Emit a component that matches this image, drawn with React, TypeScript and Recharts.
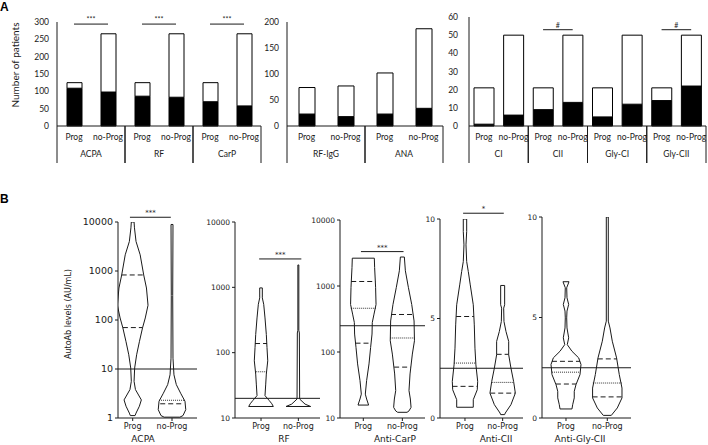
import React from 'react';
import { BarChart, Bar, XAxis, YAxis, ReferenceLine, ScatterChart, Scatter } from 'recharts';

const FONT_A = "Lato, 'Open Sans', sans-serif";
const FONT_B = "'DejaVu Sans', sans-serif";
const INK = '#1a1a1a';

// ---------- panel A : number of patients ----------
const arms = ['Prog', 'no-Prog'];

const groupsA1 = ['ACPA', 'RF', 'CarP'];
const totalA1 = [125, 266, 125, 266, 125, 266];
const posA1 = [109, 98, 86, 83, 70, 58];

const groupsA2 = ['RF-IgG', 'ANA'];
const totalA2 = [74, 77, 102, 187];
const posA2 = [23, 18, 23, 34];

const groupsA3 = ['CI', 'CII', 'Gly-CI', 'Gly-CII'];
const totalA3 = [21, 50, 21, 50, 21, 50, 21, 50];
const posA3 = [1, 6, 9, 13, 5, 12, 14, 22];

const sigA1 = [['ACPA', '***'], ['RF', '***'], ['CarP', '***']];
const sigA3 = [['CII', '#'], ['Gly-CII', '#']];

// ---------- panel B : violin outlines (level, half width in category units) ----------
const vCats = ['Prog', 'no-Prog'];

const acpaProgLv = [1.12, 1.26, 1.74, 2.34, 3.8, 5.6, 10.5, 19.5, 36, 69, 110, 200, 450, 830, 2140, 4000, 7600, 10000];
const acpaProgW = [0.06, 0.085, 0.17, 0.22, 0.07, 0.035, 0.05, 0.1, 0.17, 0.25, 0.32, 0.39, 0.35, 0.28, 0.19, 0.085, 0.045, 0.035];
const acpaProgQ = [[70, 0.25, 'dash'], [200, 0.39, 'dot'], [830, 0.28, 'dash']];
const acpaNoLv = [1.04, 1.12, 1.48, 2.2, 3.2, 4.8, 7.6, 16.6, 316, 8900];
const acpaNoW = [0.2, 0.28, 0.35, 0.33, 0.22, 0.11, 0.05, 0.025, 0.018, 0.025];
const acpaNoQ = [[1.95, 0.3, 'dash'], [2.3, 0.33, 'dot']];

const rfProgLv = [15, 16.5, 18.5, 22, 33, 47, 75, 120, 190, 340, 550, 690, 980];
const rfProgW = [0.33, 0.29, 0.22, 0.107, 0.126, 0.142, 0.18, 0.16, 0.142, 0.107, 0.072, 0.035, 0.035];
const rfProgQ = [[51, 0.14, 'dot'], [138, 0.16, 'dash']];
const rfNoLv = [15, 16.3, 19.5, 200, 220, 2200];
const rfNoW = [0.33, 0.18, 0.035, 0.027, 0.013, 0.013];
const rfNoQ = [];

const carpProgLv = [15.7, 19.4, 23, 37, 66, 117, 187, 280, 375, 525, 955, 1900, 2640];
const carpProgW = [0.136, 0.085, 0.051, 0.085, 0.146, 0.187, 0.223, 0.23, 0.274, 0.326, 0.315, 0.29, 0.282];
const carpProgQ = [[136, 0.2, 'dash'], [460, 0.32, 'dot'], [1170, 0.31, 'dash']];
const carpNoLv = [12.2, 12.8, 14.5, 19.4, 26, 46.5, 93, 148, 295, 525, 955, 1700, 2750];
const carpNoW = [0.12, 0.17, 0.223, 0.205, 0.17, 0.197, 0.256, 0.31, 0.3, 0.24, 0.154, 0.077, 0.051];
const carpNoQ = [[59, 0.21, 'dash'], [163, 0.31, 'dot'], [370, 0.29, 'dash']];

const ciiProgLv = [0.54, 0.92, 1.42, 1.84, 2.67, 3.51, 4.68, 5.69, 6.69, 7.36, 7.86, 8.7, 9.37, 10];
const ciiProgW = [0.22, 0.22, 0.326, 0.337, 0.29, 0.265, 0.247, 0.22, 0.14, 0.088, 0.045, 0.027, 0.045, 0.045];
const ciiProgQ = [[1.59, 0.33, 'dash'], [2.76, 0.29, 'dot'], [5.1, 0.235, 'dash']];
const ciiNoLv = [0.17, 0.25, 0.67, 1.25, 1.84, 2.51, 3.18, 3.85, 4.35, 4.85, 5.52, 5.69, 6.66];
const ciiNoW = [0.053, 0.07, 0.22, 0.337, 0.29, 0.22, 0.16, 0.16, 0.088, 0.035, 0.027, 0.053, 0.053];
const ciiNoQ = [[1.25, 0.33, 'dash'], [1.79, 0.29, 'dot'], [3.2, 0.16, 'dash']];

const glyProgLv = [0.45, 0.66, 1.0, 1.33, 1.66, 2.16, 2.66, 2.99, 3.32, 3.65, 3.99, 4.48, 4.98, 5.32, 5.65, 5.98, 6.48, 6.78];
const glyProgW = [0.145, 0.162, 0.2, 0.2, 0.242, 0.339, 0.363, 0.307, 0.145, 0.031, 0.065, 0.024, 0.017, 0.024, 0.065, 0.024, 0.017, 0.073];
const glyProgQ = [[1.69, 0.245, 'dash'], [2.28, 0.34, 'dot'], [2.82, 0.34, 'dash']];
const glyNoLv = [0.13, 0.5, 1.0, 1.49, 2.16, 2.99, 3.82, 4.48, 4.82, 10];
const glyNoW = [0.097, 0.242, 0.356, 0.356, 0.29, 0.225, 0.121, 0.065, 0.024, 0.024];
const glyNoQ = [[1.05, 0.356, 'dash'], [1.74, 0.35, 'dot'], [2.94, 0.23, 'dash']];

const logTicks4 = [1, 10, 100, 1000, 10000];
const logTicks3 = [10, 100, 1000, 10000];
const linTicks = [0, 5, 10];

// ---------- helpers ----------
function buildRows(groups: string[], total: number[], pos: number[]) {
  const rows: any[] = [];
  groups.forEach((g, gi) =>
    arms.forEach((a, ai) => {
      const i = gi * 2 + ai;
      rows.push({ key: g + '|' + a, group: g, pos: pos[i], rest: total[i] - pos[i] });
    })
  );
  return rows;
}

function outline(center: number, levels: number[], widths: number[]) {
  const right = levels.map((y, i) => ({ x: center + widths[i], y }));
  const left = levels.map((y, i) => ({ x: center - widths[i], y })).reverse();
  return [...right, ...left, right[0]];
}

const noDot = () => <g />;

// eslint-disable-next-line @typescript-eslint/no-explicit-any
function GroupTick({ x, y, payload, half }: any) {
  return (
    <g>
      <line x1={x - half} x2={x - half} y1={y - 18} y2={y + 19} stroke={INK} />
      <line x1={x + half} x2={x + half} y1={y - 18} y2={y + 19} stroke={INK} />
      <text x={x} y={y + 13} textAnchor="middle" fontFamily={FONT_A} fontSize={8.5} fill={INK}>
        {payload.value}
      </text>
    </g>
  );
}

function CountChart({ left, width, plotTop, yW, rightPad, groups, total, pos, yMax, yStep, barSize, tickMargin, sig, sigY }: any) {
  const rows = buildRows(groups, total, pos);
  const ticks: number[] = [];
  for (let v = 0; v <= yMax; v += yStep) ticks.push(v);
  const half = (width - yW - rightPad) / groups.length / 2;

  return (
    <div style={{ position: 'absolute', left, top: 0 }}>
      <BarChart width={width} height={170} data={rows} margin={{ top: plotTop, right: rightPad, bottom: 0, left: 0 }}>
        <XAxis
          dataKey="key"
          interval={0}
          height={18}
          tickFormatter={(k: string) => k.split('|')[1]}
          axisLine={{ stroke: INK }}
          tickLine={false}
          tick={{ fontFamily: FONT_A, fontSize: 8.5, fill: INK }}
        />
        <XAxis
          xAxisId="grp"
          dataKey="group"
          allowDuplicatedCategory={false}
          interval={0}
          height={26}
          axisLine={false}
          tickLine={false}
          tickSize={0}
          tickMargin={0}
          tick={(p: any) => <GroupTick {...p} half={half} />}
        />
        <YAxis
          domain={[0, yMax]}
          ticks={ticks}
          interval={0}
          width={yW}
          axisLine={{ stroke: INK }}
          tickLine={false}
          tickMargin={tickMargin}
          tick={{ fontFamily: FONT_A, fontSize: 8.5, fill: INK }}
        />
        <Bar dataKey="pos" stackId="s" fill="#000" stroke="#000" barSize={barSize} isAnimationActive={false} />
        <Bar dataKey="rest" stackId="s" fill="#fff" stroke="#000" barSize={barSize} isAnimationActive={false} />
        {sig.map(([g, mark]: string[]) => (
          <ReferenceLine
            key={g}
            segment={[{ x: g + '|Prog', y: sigY }, { x: g + '|no-Prog', y: sigY }]}
            stroke={INK}
            ifOverflow="visible"
            label={{ value: mark, position: 'top', offset: 2, fontSize: 7, fill: INK, fontFamily: FONT_A }}
          />
        ))}
      </BarChart>
    </div>
  );
}

const violinPanels = [
  {
    name: 'ACPA', nameX: 143, left: 60, width: 139, yW: 58, plotTop: 22, xDomain: [0.626, 2.636],
    log: true, yDomain: [1, 10000], yTicks: logTicks4, cutoff: 10, tickFont: 9.5,
    violins: [
      { lv: acpaProgLv, w: acpaProgW, q: acpaProgQ },
      { lv: acpaNoLv, w: acpaNoW, q: acpaNoQ },
    ],
    sig: { x1: 0.93, x2: 1.97, y: 12500, mark: '***' },
  },
  {
    name: 'RF', nameX: 284, left: 200, width: 122, yW: 35, plotTop: 22, xDomain: [0.303, 2.58],
    log: true, yDomain: [10, 10000], yTicks: logTicks3, cutoff: 20, tickFont: 7.5,
    violins: [
      { lv: rfProgLv, w: rfProgW, q: rfProgQ },
      { lv: rfNoLv, w: rfNoW, q: rfNoQ },
    ],
    sig: { x1: 0.95, x2: 2.08, y: 2720, mark: '***' },
  },
  {
    name: 'Anti-CarP', nameX: 395, left: 300, width: 127, yW: 40, plotTop: 20, xDomain: [0.403, 2.58],
    log: true, yDomain: [10, 10000], yTicks: logTicks3, cutoff: 250, tickFont: 7.5,
    violins: [
      { lv: carpProgLv, w: carpProgW, q: carpProgQ },
      { lv: carpNoLv, w: carpNoW, q: carpNoQ },
    ],
    sig: { x1: 0.94, x2: 2.03, y: 3320, mark: '***' },
  },
  {
    name: 'Anti-CII', nameX: 496, left: 415, width: 110, yW: 25, plotTop: 19, xDomain: [0.337, 2.54],
    log: false, yDomain: [0, 10], yTicks: linTicks, cutoff: 2.5, tickFont: 7.5,
    violins: [
      { lv: ciiProgLv, w: ciiProgW, q: ciiProgQ },
      { lv: ciiNoLv, w: ciiNoW, q: ciiNoQ },
    ],
    sig: { x1: 0.95, x2: 2.03, y: 10.29, mark: '*' },
  },
  {
    name: 'Anti-Gly-CII', nameX: 580, left: 515, width: 118, yW: 27, plotTop: 17, xDomain: [0.419, 2.574],
    log: false, yDomain: [0, 10], yTicks: linTicks, cutoff: 2.5, tickFont: 7.5,
    violins: [
      { lv: glyProgLv, w: glyProgW, q: glyProgQ },
      { lv: glyNoLv, w: glyNoW, q: glyNoQ },
    ],
    sig: null,
  },
];

function ViolinChart({ cfg }: any) {
  const { left, width, yW, plotTop, xDomain, log, yDomain, yTicks, cutoff, tickFont, violins, sig } = cfg;
  return (
    <div style={{ position: 'absolute', left, top: 200 }}>
      <ScatterChart width={width} height={245} margin={{ top: plotTop, right: 2, bottom: 0, left: 0 }}>
        <XAxis
          type="number"
          dataKey="x"
          domain={xDomain}
          ticks={[1, 2]}
          interval={0}
          allowDataOverflow
          height={27}
          tickFormatter={(v: number) => vCats[v - 1]}
          axisLine={{ stroke: INK }}
          tickLine={{ stroke: INK }}
          tickSize={3}
          tickMargin={2}
          tick={{ fontFamily: FONT_B, fontSize: 8, fill: INK }}
        />
        <YAxis
          type="number"
          dataKey="y"
          scale={log ? 'log' : 'linear'}
          domain={yDomain}
          ticks={yTicks}
          interval={0}
          allowDataOverflow
          width={yW}
          axisLine={{ stroke: INK }}
          tickLine={{ stroke: INK }}
          tickSize={3}
          tickMargin={2}
          tick={{ fontFamily: FONT_B, fontSize: tickFont, fill: INK }}
        />
        <ReferenceLine y={cutoff} stroke={INK} />
        {violins.map((v: any, i: number) => (
          <Scatter
            key={'v' + i}
            data={outline(i + 1, v.lv, v.w)}
            line={{ stroke: INK, strokeWidth: 1 }}
            lineType="joint"
            shape={noDot}
            fill="none"
            isAnimationActive={false}
          />
        ))}
        {violins.flatMap((v: any, i: number) =>
          v.q.map(([val, w, kind]: any, j: number) => (
            <ReferenceLine
              key={`q${i}-${j}`}
              segment={[{ x: i + 1 - w, y: val }, { x: i + 1 + w, y: val }]}
              stroke={kind === 'dot' ? '#333' : INK}
              strokeDasharray={kind === 'dot' ? '1 1' : '5 3'}
            />
          ))
        )}
        {sig && (
          <ReferenceLine
            segment={[{ x: sig.x1, y: sig.y }, { x: sig.x2, y: sig.y }]}
            stroke={INK}
            ifOverflow="visible"
            label={{ value: sig.mark, position: 'top', offset: 2, fontSize: 7, fill: INK, fontFamily: FONT_B }}
          />
        )}
      </ScatterChart>
    </div>
  );
}

export default function App() {
  return (
    <div style={{ position: 'absolute', left: 0, top: 0, width: 708, height: 445, background: '#fff', overflow: 'hidden' }}>
      <CountChart left={0} width={270} plotTop={22} yW={57} rightPad={9} groups={groupsA1} total={totalA1} pos={posA1}
        yMax={300} yStep={50} barSize={15} tickMargin={2} sig={sigA1} sigY={294} />
      <CountChart left={230} width={230} plotTop={22} yW={57} rightPad={17} groups={groupsA2} total={totalA2} pos={posA2}
        yMax={200} yStep={50} barSize={16} tickMargin={2} sig={[]} sigY={0} />
      <CountChart left={420} width={288} plotTop={17} yW={49} rightPad={2} groups={groupsA3} total={totalA3} pos={posA3}
        yMax={60} yStep={10} barSize={20} tickMargin={5} sig={sigA3} sigY={53} />

      {violinPanels.map((cfg) => (
        <ViolinChart key={cfg.name} cfg={cfg} />
      ))}

      <svg width={708} height={445} style={{ position: 'absolute', left: 0, top: 0, pointerEvents: 'none' }}>
        <text x={0} y={11} fontFamily="'Liberation Sans', Arial, sans-serif" fontWeight="bold" fontSize={12} fill="#000">A</text>
        <text x={0} y={203} fontFamily="'Liberation Sans', Arial, sans-serif" fontWeight="bold" fontSize={12} fill="#000">B</text>
        <text transform="translate(15,65) rotate(-90)" textAnchor="middle" dominantBaseline="central"
          fontFamily={FONT_A} fontSize={10} fill={INK}>Number of patients</text>
        <text transform="translate(68,314) rotate(-90)" textAnchor="middle" dominantBaseline="central"
          fontFamily={FONT_B} fontSize={8} fill={INK}>AutoAb levels (AU/mL)</text>
        {violinPanels.map((cfg) => (
          <text key={cfg.name} x={cfg.nameX} y={442} textAnchor="middle" fontFamily={FONT_B} fontSize={9} fill={INK}>
            {cfg.name}
          </text>
        ))}
      </svg>
    </div>
  );
}
